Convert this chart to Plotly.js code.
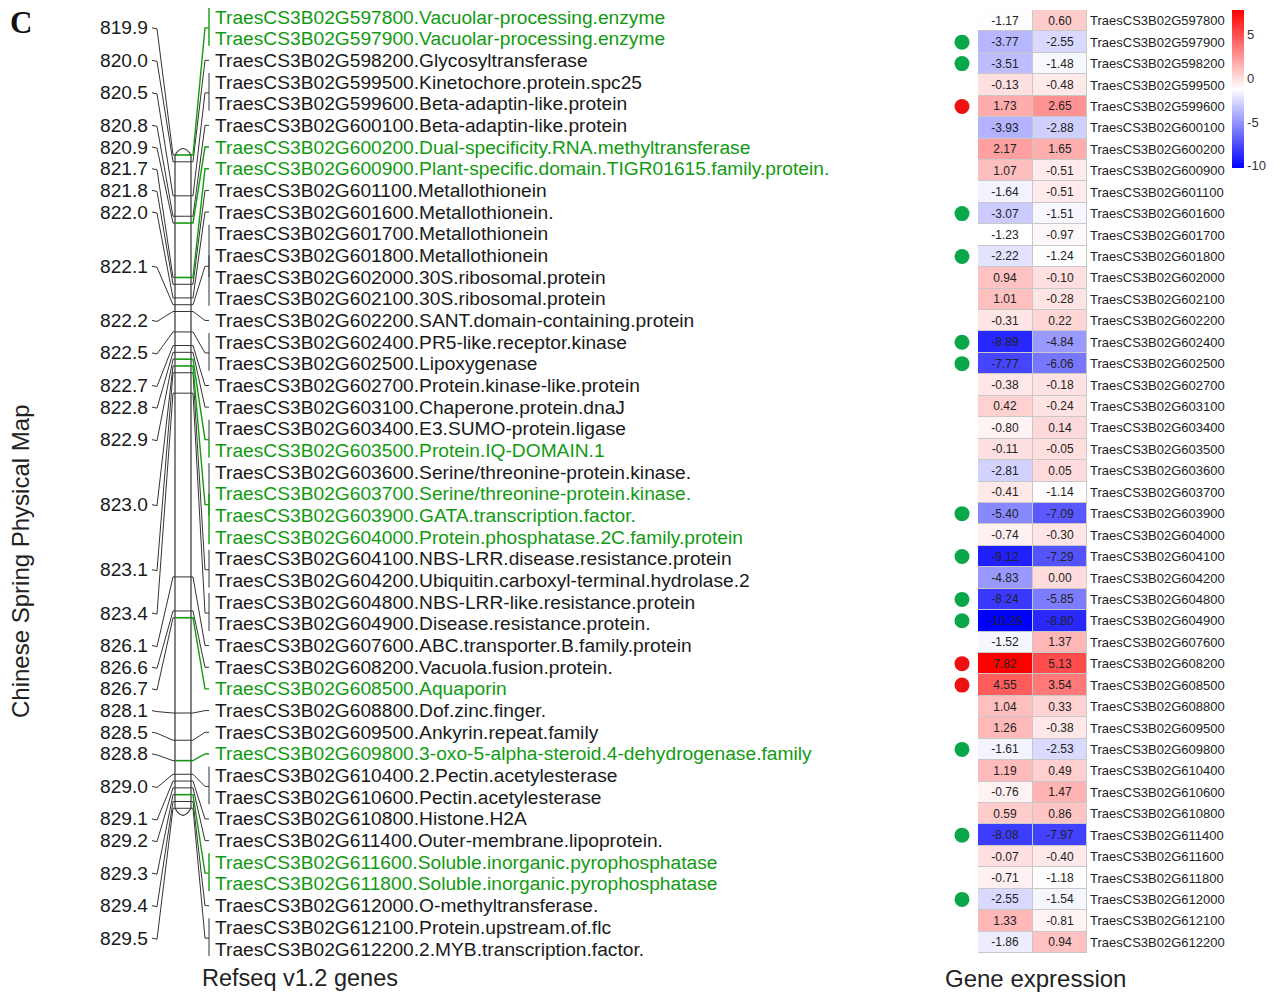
<!DOCTYPE html>
<html><head><meta charset="utf-8">
<script src="https://cdn.plot.ly/plotly-3.0.1.min.js"></script>
<style>html,body{margin:0;padding:0;background:#fff}#chart{width:1282px;height:992px}</style>
</head><body><div id="chart"></div>
<script>
// ---------------- data ----------------
const geneIds = ['TraesCS3B02G597800','TraesCS3B02G597900','TraesCS3B02G598200','TraesCS3B02G599500','TraesCS3B02G599600','TraesCS3B02G600100','TraesCS3B02G600200','TraesCS3B02G600900','TraesCS3B02G601100','TraesCS3B02G601600','TraesCS3B02G601700','TraesCS3B02G601800','TraesCS3B02G602000','TraesCS3B02G602100','TraesCS3B02G602200','TraesCS3B02G602400','TraesCS3B02G602500','TraesCS3B02G602700','TraesCS3B02G603100','TraesCS3B02G603400','TraesCS3B02G603500','TraesCS3B02G603600','TraesCS3B02G603700','TraesCS3B02G603900','TraesCS3B02G604000','TraesCS3B02G604100','TraesCS3B02G604200','TraesCS3B02G604800','TraesCS3B02G604900','TraesCS3B02G607600','TraesCS3B02G608200','TraesCS3B02G608500','TraesCS3B02G608800','TraesCS3B02G609500','TraesCS3B02G609800','TraesCS3B02G610400','TraesCS3B02G610600','TraesCS3B02G610800','TraesCS3B02G611400','TraesCS3B02G611600','TraesCS3B02G611800','TraesCS3B02G612000','TraesCS3B02G612100','TraesCS3B02G612200'];
const geneAnnot = ['Vacuolar-processing.enzyme','Vacuolar-processing.enzyme','Glycosyltransferase','Kinetochore.protein.spc25','Beta-adaptin-like.protein','Beta-adaptin-like.protein','Dual-specificity.RNA.methyltransferase','Plant-specific.domain.TIGR01615.family.protein.','Metallothionein','Metallothionein.','Metallothionein','Metallothionein','30S.ribosomal.protein','30S.ribosomal.protein','SANT.domain-containing.protein','PR5-like.receptor.kinase','Lipoxygenase','Protein.kinase-like.protein','Chaperone.protein.dnaJ','E3.SUMO-protein.ligase','Protein.IQ-DOMAIN.1','Serine/threonine-protein.kinase.','Serine/threonine-protein.kinase.','GATA.transcription.factor.','Protein.phosphatase.2C.family.protein','NBS-LRR.disease.resistance.protein','Ubiquitin.carboxyl-terminal.hydrolase.2','NBS-LRR-like.resistance.protein','Disease.resistance.protein.','ABC.transporter.B.family.protein','Vacuola.fusion.protein.','Aquaporin','Dof.zinc.finger.','Ankyrin.repeat.family','3-oxo-5-alpha-steroid.4-dehydrogenase.family','2.Pectin.acetylesterase','Pectin.acetylesterase','Histone.H2A','Outer-membrane.lipoprotein.','Soluble.inorganic.pyrophosphatase','Soluble.inorganic.pyrophosphatase','O-methyltransferase.','Protein.upstream.of.flc','2.MYB.transcription.factor.'];
const geneHighlighted = [1,1,0,0,0,0,1,1,0,0,0,0,0,0,0,0,0,0,0,0,1,0,1,1,1,0,0,0,0,0,0,1,0,0,1,0,0,0,0,1,1,0,0,0];
const geneLocus = ['819.9','819.9','820.0','820.5','820.5','820.8','820.9','821.7','821.8','822.0','822.1','822.1','822.1','822.1','822.2','822.5','822.5','822.7','822.8','822.9','822.9','823.0','823.0','823.0','823.0','823.1','823.1','823.4','823.4','826.1','826.6','826.7','828.1','828.5','828.8','829.0','829.0','829.1','829.2','829.3','829.3','829.4','829.5','829.5'];
const exprCol1 = [-1.17,-3.77,-3.51,-0.13,1.73,-3.93,2.17,1.07,-1.64,-3.07,-1.23,-2.22,0.94,1.01,-0.31,-8.89,-7.77,-0.38,0.42,-0.80,-0.11,-2.81,-0.41,-5.40,-0.74,-9.12,-4.83,-8.24,-10.26,-1.52,7.82,4.55,1.04,1.26,-1.61,1.19,-0.76,0.59,-8.08,-0.07,-0.71,-2.55,1.33,-1.86];
const exprCol2 = [0.60,-2.55,-1.48,-0.48,2.65,-2.88,1.65,-0.51,-0.51,-1.51,-0.97,-1.24,-0.10,-0.28,0.22,-4.84,-6.06,-0.18,-0.24,0.14,-0.05,0.05,-1.14,-7.09,-0.30,-7.29,0.00,-5.85,-8.80,1.37,5.13,3.54,0.33,-0.38,-2.53,0.49,1.47,0.86,-7.97,-0.40,-1.18,-1.54,-0.81,0.94];
const degStatus = ['','down','down','','up','','','','','down','','down','','','','down','down','','','','','','','down','','down','','down','down','','up','up','','','down','','','','down','','','down','',''];
const colorbarTicks = [5,0,-5,-10];
const colorbarTickText = ['5','0','-5','-10'];
const mapAxisTitle = 'Chinese Spring Physical Map';
const genesTitle = 'Refseq v1.2 genes';
const exprTitle = 'Gene expression';
const panelLetter = 'C';

// ---------------- layout constants ----------------
const W = 1282, H = 992;
const FONT = 'Liberation Sans, Arial, sans-serif';
const GREEN = '#129a12', BLACK = '#1a1a1a', LINE = '#333333';
const slotTop = 17, slotBottom = 949;
const slotStep = (slotBottom - slotTop) / (geneIds.length - 1);
const barLeft = 175, barRight = 191, barTopY = 155, pxPerMb = 68.05;
const posLabelX = 150, hookL = 157, bracketX = 209, geneLabelX = 213;
const hmTop = 10, hmBottom = 953, hmLeft = 978, hmRight = 1087, dotX = 962;
const labelFont = 19.2;

const slotY = i => slotTop + i * slotStep;

// loci derived from data
const loci = [];
geneLocus.forEach((lab, i) => {
  let l = loci.find(o => o.label === lab);
  if (!l) { l = {label: lab, mb: parseFloat(lab), genes: []}; loci.push(l); }
  l.genes.push(i);
});
const mbMin = Math.min(...loci.map(l => l.mb));
const mbMax = Math.max(...loci.map(l => l.mb));
const mbToY = mb => barTopY + (mb - mbMin) * pxPerMb;
loci.forEach(l => {
  l.by = mbToY(l.mb);
  l.ly = l.genes.reduce((s, g) => s + slotY(g), 0) / l.genes.length;
  l.green = l.genes.some(g => geneHighlighted[g]);
});

const traces = [];
function lineTrace(segs, color, width) {
  const x = [], y = [];
  segs.forEach(s => { s.forEach(p => { x.push(p[0]); y.push(p[1]); }); x.push(null); y.push(null); });
  return {type: 'scatter', mode: 'lines', x, y, xaxis: 'x', yaxis: 'y',
    line: {color, width: width || 1}, hoverinfo: 'skip', showlegend: false, cliponaxis: false};
}

// left connectors
traces.push(lineTrace(loci.map(l => [[posLabelX + 2, l.ly], [hookL, l.ly + 1], [barLeft - 2, l.by], [barLeft, l.by]]), LINE, 1));
// right connectors + brackets
const rBlack = [], rGreen = [];
loci.forEach(l => {
  (l.green ? rGreen : rBlack).push([[barRight, l.by], [barRight + 2, l.by], [bracketX - 4, l.ly], [bracketX, l.ly]]);
  if (l.genes.length > 1) {
    l.genes.forEach((g, k) => {
      const yy = slotY(g);
      const end = k === 0 ? yy - 9 : (k === l.genes.length - 1 ? yy + 7 : yy);
      (geneHighlighted[g] ? rGreen : rBlack).push([[bracketX, l.ly], [bracketX, end]]);
    });
  }
});
traces.push(lineTrace(rBlack, LINE, 1));
traces.push(lineTrace(rGreen, GREEN, 1.4));

// chromosome bar outline
const barBottomY = mbToY(mbMax);
traces.push(lineTrace([[[barLeft, barTopY], [barLeft, barBottomY]], [[barRight, barTopY], [barRight, barBottomY]]], LINE, 1.2));
// bands
traces.push(lineTrace(loci.filter(l => !l.green).map(l => [[barLeft, l.by], [barRight, l.by]]), LINE, 1));
traces.push(lineTrace(loci.filter(l => l.green).map(l => [[barLeft, l.by], [barRight, l.by]]), GREEN, 1.6));

const shapes = [
  {type: 'path', xref: 'x', yref: 'y', path: `M ${barLeft},${barTopY} Q ${(barLeft+barRight)/2},${barTopY-13} ${barRight},${barTopY}`, line: {color: LINE, width: 1.2}},
  {type: 'path', xref: 'x', yref: 'y', path: `M ${barLeft},${barBottomY} Q ${(barLeft+barRight)/2},${barBottomY+14} ${barRight},${barBottomY}`, line: {color: LINE, width: 1.2}},
  {type: 'rect', xref: 'paper', yref: 'paper', layer: 'below',
   x0: hmLeft / W, x1: hmRight / W, y0: 1 - hmBottom / H, y1: 1 - hmTop / H,
   fillcolor: '#c8c8c8', line: {width: 0}}
];

// heatmap axis: columns 0 and 1 occupy [hmLeft, hmRight]; axis extended left to hold the DEG dots
const pxPerCol = (hmRight - hmLeft) / 2;
const x2Left = dotX - 10;
const x2RangeMin = -0.5 - (hmLeft - x2Left) / pxPerCol;
const dotXData = -0.5 - (hmLeft - dotX) / pxPerCol;

const zMin = Math.min(...exprCol1, ...exprCol2), zMax = Math.max(...exprCol1, ...exprCol2);
traces.push({
  type: 'heatmap', xaxis: 'x2', yaxis: 'y2',
  x: [0, 1], y: geneIds,
  z: geneIds.map((g, i) => [exprCol1[i], exprCol2[i]]),
  text: geneIds.map((g, i) => [exprCol1[i].toFixed(2), exprCol2[i].toFixed(2)]),
  texttemplate: '%{text}',
  textfont: {family: FONT, size: 12, color: '#222'},
  colorscale: [[0, 'rgb(0,0,255)'], [0.5, 'rgb(255,255,255)'], [1, 'rgb(255,0,0)']],
  zmin: zMin, zmax: zMax, xgap: 1, ygap: 1, hoverinfo: 'skip',
  colorbar: {x: 1232 / W, xanchor: 'left', y: 1 - 10 / H, yanchor: 'top',
    len: 158, lenmode: 'pixels', thickness: 12, thicknessmode: 'pixels',
    outlinewidth: 0, xpad: 0, ypad: 0, tickvals: colorbarTicks, ticktext: colorbarTickText, ticks: '',
    ticklabelpad: 4,
    tickfont: {family: FONT, size: 13, color: '#333'}}
});
// DEG dots
const dotIdx = geneIds.map((g, i) => i).filter(i => degStatus[i]);
traces.push({
  type: 'scatter', mode: 'markers', xaxis: 'x2', yaxis: 'y2', cliponaxis: false,
  x: dotIdx.map(() => dotXData),
  y: dotIdx.map(i => geneIds[i]),
  marker: {size: 15, color: dotIdx.map(i => degStatus[i] === 'up' ? '#ee1111' : '#0aa64a'), line: {width: 0}},
  hoverinfo: 'skip', showlegend: false
});

// annotations
const annotations = [];
loci.forEach(l => annotations.push({xref: 'x', yref: 'y', x: posLabelX, y: l.ly, xanchor: 'right', yanchor: 'middle',
  text: l.label, showarrow: false, font: {family: FONT, size: labelFont, color: BLACK}}));
geneIds.forEach((g, i) => annotations.push({xref: 'x', yref: 'y', x: geneLabelX, y: slotY(i), xanchor: 'left', yanchor: 'middle',
  text: g + '.' + geneAnnot[i], showarrow: false, font: {family: FONT, size: labelFont, color: geneHighlighted[i] ? GREEN : BLACK}}));
annotations.push({xref: 'x', yref: 'y', x: 20, y: 561, textangle: -90, text: mapAxisTitle, showarrow: false,
  font: {family: FONT, size: 24, color: '#222'}});
annotations.push({xref: 'x', yref: 'y', x: 300, y: 978, text: genesTitle, showarrow: false,
  font: {family: FONT, size: 23.5, color: '#222'}});
annotations.push({xref: 'x', yref: 'y', x: 1035, y: 978, text: exprTitle, showarrow: false,
  font: {family: FONT, size: 24, color: '#222'}});
annotations.push({xref: 'x', yref: 'y', x: 21, y: 22, text: '<b>' + panelLetter + '</b>', showarrow: false,
  font: {family: 'Liberation Serif, Times New Roman, serif', size: 31, color: '#111'}});

const hidden = {visible: false, showgrid: false, zeroline: false, fixedrange: true};
const layout = {
  width: W, height: H, margin: {l: 0, r: 0, t: 0, b: 0},
  paper_bgcolor: '#fff', plot_bgcolor: 'rgba(0,0,0,0)', showlegend: false,
  xaxis: Object.assign({}, hidden, {domain: [0, 1], range: [0, W]}),
  yaxis: Object.assign({}, hidden, {domain: [0, 1], range: [H, 0]}),
  xaxis2: Object.assign({}, hidden, {domain: [x2Left / W, hmRight / W], range: [x2RangeMin, 1.5], autorange: false, anchor: 'y2'}),
  yaxis2: {domain: [1 - hmBottom / H, 1 - hmTop / H], anchor: 'x2', side: 'right', type: 'category',
    range: [geneIds.length - 0.5, -0.5], autorange: false, showgrid: false, zeroline: false, showline: false, ticks: '',
    ticklabelstandoff: 2,
    tickfont: {family: FONT, size: 13, color: '#222'}, fixedrange: true},
  shapes, annotations
};
Plotly.newPlot('chart', traces, layout, {staticPlot: true, displayModeBar: false});
</script>
</body></html>
